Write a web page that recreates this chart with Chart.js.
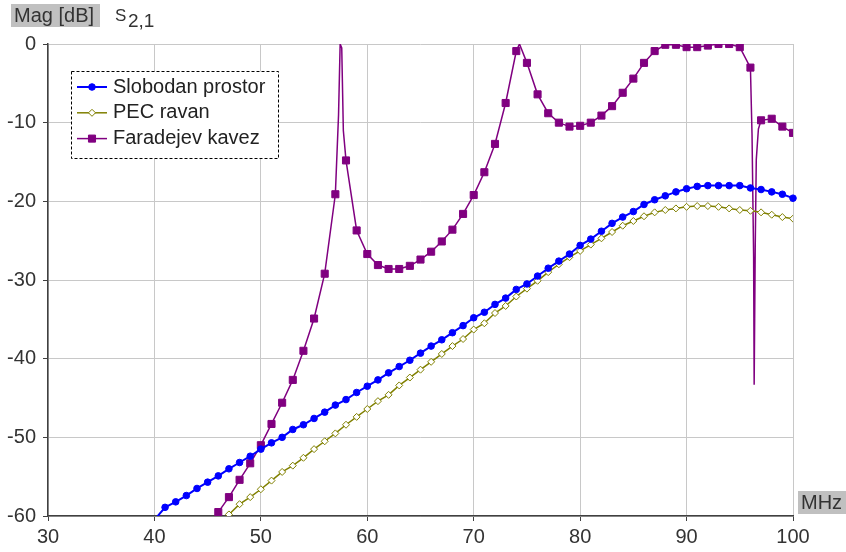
<!DOCTYPE html>
<html>
<head>
<meta charset="utf-8">
<title>S2,1</title>
<script src="https://cdn.jsdelivr.net/npm/chart.js@4.4.0/dist/chart.umd.min.js"></script>
<style>
  html, body { margin: 0; padding: 0; background: #fff; }
  #wrap { position: relative; width: 846px; height: 552px; }
</style>
</head>
<body>
<div id="wrap"><canvas id="s21Chart"></canvas></div>
<script>
const FONT = '"Liberation Sans", Arial, sans-serif';

const xTicks = [30, 40, 50, 60, 70, 80, 90, 100];
const yTicks = [0, -10, -20, -30, -40, -50, -60];

// Slobodan prostor (40..100 MHz, the 40 MHz sample sits just under the axis)
const freeFreq = [40, 41, 42, 43, 44, 45, 46, 47, 48, 49, 50, 51, 52, 53, 54, 55, 56, 57, 58, 59, 60,
    61, 62, 63, 64, 65, 66, 67, 68, 69, 70, 71, 72, 73, 74, 75, 76, 77, 78, 79, 80,
    81, 82, 83, 84, 85, 86, 87, 88, 89, 90, 91, 92, 93, 94, 95, 96, 97, 98, 99, 100];
const freeMag = [-60.5, -58.9, -58.2, -57.4, -56.5, -55.7, -54.9, -54.0, -53.2, -52.4, -51.5,
    -50.7, -50.0, -49.0, -48.4, -47.6, -46.8, -45.9, -45.2, -44.3, -43.5,
    -42.7, -41.8, -41.0, -40.2, -39.3, -38.4, -37.6, -36.7, -35.8, -34.8,
    -34.1, -33.1, -32.3, -31.2, -30.5, -29.5, -28.5, -27.6, -26.7, -25.6,
    -24.8, -23.8, -22.8, -22.0, -21.3, -20.4, -19.8, -19.3, -18.8, -18.4,
    -18.1, -18.0, -18.0, -18.0, -18.0, -18.3, -18.5, -18.8, -19.1, -19.6];

// PEC ravan (47..100 MHz)
const pecFreq = [47, 48, 49, 50, 51, 52, 53, 54, 55, 56, 57, 58, 59, 60, 61, 62, 63, 64, 65, 66,
    67, 68, 69, 70, 71, 72, 73, 74, 75, 76, 77, 78, 79, 80, 81, 82, 83, 84, 85, 86,
    87, 88, 89, 90, 91, 92, 93, 94, 95, 96, 97, 98, 99, 100];
const pecMag = [-59.8, -58.5, -57.6, -56.6, -55.5, -54.4, -53.6, -52.6, -51.5, -50.5,
    -49.5, -48.4, -47.4, -46.4, -45.4, -44.6, -43.4, -42.4, -41.4, -40.4,
    -39.4, -38.4, -37.5, -36.3, -35.5, -34.2, -33.3, -32.1, -31.1, -30.1,
    -29.0, -28.0, -27.1, -26.3, -25.5, -24.7, -23.9, -23.1, -22.5, -21.9,
    -21.4, -21.1, -20.9, -20.7, -20.6, -20.6, -20.7, -20.9, -21.1, -21.2,
    -21.4, -21.7, -22.0, -22.2];

// Faradejev kavez (46..100 MHz, extra samples at the resonances)
const cageFreq = [46, 47, 48, 49, 50, 51, 52, 53, 54, 55, 56, 57, 57.3, 57.45, 57.6, 57.75, 58, 59, 60,
    61, 62, 63, 64, 65, 66, 67, 68, 69, 70, 71, 72, 73, 74, 74.3, 75, 76, 77, 78, 79, 80,
    81, 82, 83, 84, 85, 86, 87, 88, 89, 90, 91, 92, 93, 94, 95, 96,
    96.15, 96.3, 96.35, 96.45, 96.55, 96.75, 97, 98, 99, 100];
const cageMag = [-59.5, -57.6, -55.4, -53.3, -51.0, -48.3, -45.6, -42.7, -39.0, -34.9, -29.2, -19.1, -9.0, 0, -0.5, -11.0, -14.8, -23.7, -26.7,
    -28.1, -28.6, -28.6, -28.2, -27.4, -26.4, -25.1, -23.6, -21.6, -19.2, -16.3, -12.7, -7.5, -0.9, 0, -2.4, -6.4, -8.8, -10.0, -10.5, -10.4,
    -10.0, -9.1, -7.9, -6.2, -4.4, -2.4, -0.9, -0.1, -0.1, -0.4, -0.4, -0.2, 0, 0, -0.4, -3.0,
    -11.5, -27.0, -43.3, -26.0, -14.7, -10.8, -9.7, -9.5, -10.5, -11.3];

const toPoints = (xs, ys) => xs.map((x, i) => ({ x: x, y: ys[i] }));

// gray label boxes, S2,1 heading and dashed legend
const decorations = {
    id: 'decorations',
    afterDraw(chart) {
        const ctx = chart.ctx;
        ctx.save();
        ctx.textBaseline = 'middle';

        ctx.fillStyle = '#c0c0c0';
        ctx.fillRect(11, 4, 89, 23);
        ctx.fillRect(798, 491, 48, 23);
        ctx.fillStyle = '#333';
        ctx.font = '20px ' + FONT;
        ctx.fillText('Mag [dB]', 14, 16);
        ctx.fillText('MHz', 801, 503);

        ctx.textBaseline = 'alphabetic';
        ctx.font = '17px ' + FONT;
        ctx.fillText('S', 115, 21);
        ctx.font = '19px ' + FONT;
        ctx.fillText('2,1', 128, 27);

        // legend
        ctx.fillStyle = '#fff';
        ctx.fillRect(71.5, 71.5, 207, 87);
        ctx.setLineDash([3, 2]);
        ctx.strokeStyle = '#000';
        ctx.lineWidth = 1;
        ctx.strokeRect(71.5, 71.5, 207, 87);
        ctx.setLineDash([]);

        const legendRadius = [3.3, 3.5, 5];
        chart.data.datasets.forEach((ds, i) => {
            const y = 87 + i * 25.8;
            ctx.strokeStyle = ds.borderColor;
            ctx.lineWidth = ds.borderWidth;
            ctx.beginPath();
            ctx.moveTo(77, y);
            ctx.lineTo(107, y);
            ctx.stroke();
            ctx.fillStyle = ds.pointBackgroundColor;
            ctx.strokeStyle = ds.pointBorderColor;
            ctx.lineWidth = 1;
            Chart.helpers.drawPoint(ctx, { pointStyle: ds.pointStyle, radius: legendRadius[i], borderWidth: 1, rotation: 0 }, 92, y);
            ctx.fillStyle = '#222';
            ctx.textBaseline = 'middle';
            ctx.font = '20px ' + FONT;
            ctx.fillText(ds.label, 113, y);
        });
        ctx.restore();
    }
};

new Chart(document.getElementById('s21Chart'), {
    type: 'line',
    data: {
        datasets: [
            {
                label: 'Slobodan prostor',
                data: toPoints(freeFreq, freeMag),
                borderColor: '#0000ff',
                borderWidth: 2,
                pointStyle: 'circle',
                pointRadius: 3.3,
                pointBackgroundColor: '#0000ff',
                pointBorderColor: '#0000ff',
                pointBorderWidth: 1,
                clip: { left: 6, top: 6, right: 6, bottom: 0 },
                tension: 0
            },
            {
                label: 'PEC ravan',
                data: toPoints(pecFreq, pecMag),
                borderColor: '#808000',
                borderWidth: 1.5,
                pointStyle: 'rectRot',
                pointRadius: 3.5,
                pointBackgroundColor: '#ffffff',
                pointBorderColor: '#808000',
                pointBorderWidth: 1,
                tension: 0
            },
            {
                label: 'Faradejev kavez',
                data: toPoints(cageFreq, cageMag),
                borderColor: '#800080',
                borderWidth: 1.5,
                pointStyle: 'rect',
                pointRadius: ctx => Number.isInteger(ctx.raw && ctx.raw.x) ? 5 : 0,
                pointBackgroundColor: '#800080',
                pointBorderColor: '#800080',
                pointBorderWidth: 1,
                tension: 0
            }
        ]
    },
    options: {
        responsive: true,
        maintainAspectRatio: false,
        animation: false,
        events: [],
        layout: { padding: { top: 44, right: 53, left: 0, bottom: 0 } },
        scales: {
            x: {
                type: 'linear',
                min: 30,
                max: 100,
                afterBuildTicks: scale => { scale.ticks = xTicks.map(v => ({ value: v })); },
                afterFit: scale => { scale.height = 36; },
                ticks: { color: '#333', font: { family: FONT, size: 20 }, padding: 4, maxRotation: 0, autoSkip: false },
                grid: { color: '#c8c8c8', tickColor: '#404040', tickLength: 5 },
                border: { color: '#404040', width: 1.5 }
            },
            y: {
                min: -60,
                max: 0,
                afterBuildTicks: scale => { scale.ticks = yTicks.map(v => ({ value: v })); },
                afterFit: scale => { scale.width = 48; },
                ticks: { color: '#333', font: { family: FONT, size: 20 }, padding: 7, autoSkip: false },
                grid: { color: '#c8c8c8', tickColor: '#404040', tickLength: 5 },
                border: { color: '#404040', width: 1.5 }
            }
        },
        plugins: {
            legend: { display: false },
            tooltip: { enabled: false }
        }
    },
    plugins: [decorations]
});
</script>
</body>
</html>
